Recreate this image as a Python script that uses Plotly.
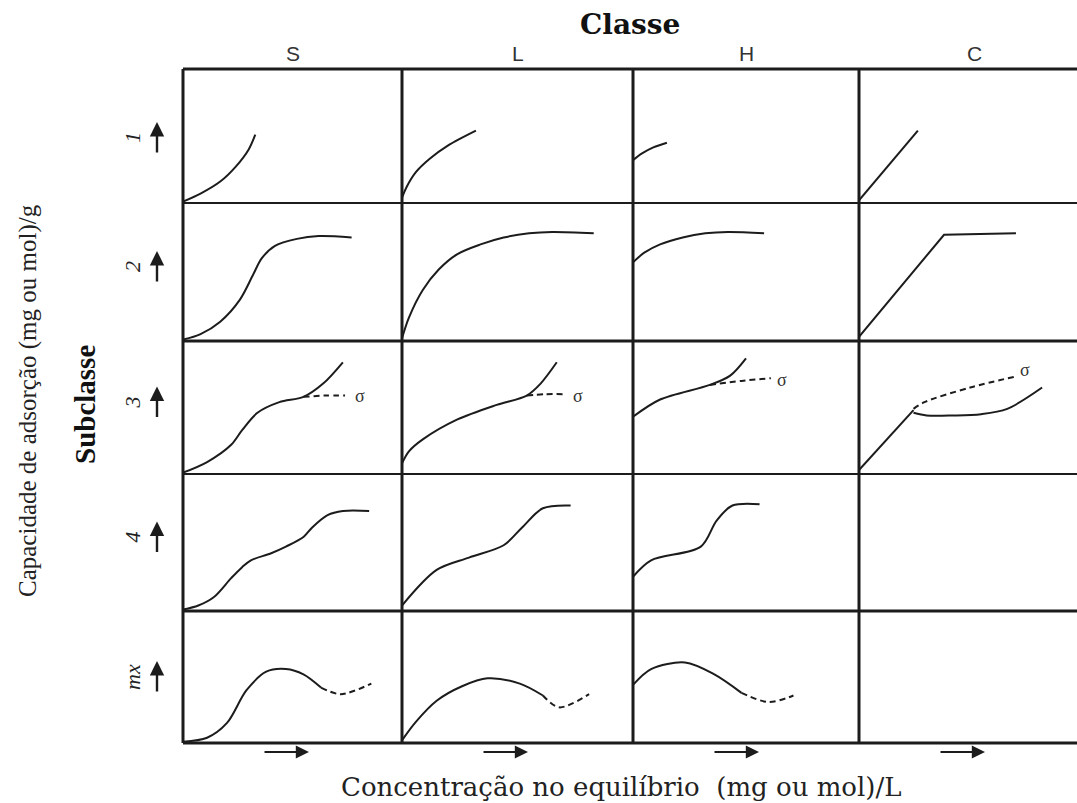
import plotly.graph_objects as go

# ---------------- data (cell-fraction coordinates) ----------------
classes = ["S", "L", "H", "C"]
subclasses = ["1", "2", "3", "4", "mx"]

# row 1
s1_x = [0, .08, .17, .24, .30, .33]
s1_y = [.01, .07, .16, .27, .40, .51]
l1_x = [0, .02, .06, .12, .20, .32]
l1_y = [.04, .12, .23, .33, .43, .54]
h1_x = [0, .04, .09, .15]
h1_y = [.32, .37, .415, .45]
c1_x = [0, .27]
c1_y = [.02, .54]
# row 2
s2_x = [0, .08, .17, .26, .32, .36, .42, .52, .62, .77]
s2_y = [.01, .05, .14, .30, .48, .60, .69, .74, .76, .75]
l2_x = [0, .03, .09, .16, .24, .34, .44, .55, .65, .83]
l2_y = [.02, .17, .37, .52, .63, .70, .75, .78, .79, .78]
h2_x = [0, .05, .12, .22, .32, .42, .58]
h2_y = [.57, .64, .70, .75, .78, .79, .78]
c2_x = [0, .39, .72]
c2_y = [.03, .77, .78]
# row 3
s3_x = [0, .11, .22, .27, .34, .44, .55, .64, .73]
s3_y = [.01, .09, .22, .33, .46, .54, .58, .68, .84]
s3d_x = [.55, .65, .74]
s3d_y = [.58, .59, .59]
l3_x = [0, .03, .09, .24, .41, .54, .60, .67]
l3_y = [.08, .17, .26, .41, .52, .59, .68, .84]
l3d_x = [.54, .62, .71]
l3d_y = [.59, .60, .60]
h3_x = [0, .12, .34, .43, .50]
h3_y = [.43, .56, .67, .74, .87]
h3d_x = [.34, .48, .61]
h3d_y = [.67, .70, .72]
c3a_x = [0, .25]
c3a_y = [.03, .48]
c3b_x = [.25, .31, .43, .56, .68, .84]
c3b_y = [.46, .44, .44, .45, .49, .65]
c3d_x = [.25, .30, .51, .71]
c3d_y = [.49, .54, .65, .73]
sigma_x = [.81, .76, .66, .76]
sigma_y = [.59, .59, .71, .78]
# row 4
s4_x = [0, .07, .14, .22, .27, .31, .40, .47, .55, .59, .66, .73, .85]
s4_y = [.01, .04, .10, .24, .32, .37, .42, .47, .54, .61, .70, .73, .73]
l4_x = [0, .15, .29, .44, .52, .61, .73]
l4_y = [.04, .30, .39, .48, .61, .75, .77]
h4_x = [0, .08, .30, .37, .44, .56]
h4_y = [.25, .37, .47, .66, .77, .78]
# row 5
s5_x = [0, .11, .20, .29, .38, .47, .55, .63]
s5_y = [.01, .04, .15, .40, .54, .56, .52, .42]
s5d_x = [.63, .72, .86]
s5d_y = [.42, .37, .45]
l5_x = [0, .06, .15, .26, .37, .51, .61]
l5_y = [.02, .16, .32, .43, .49, .45, .36]
l5d_x = [.61, .68, .81]
l5d_y = [.36, .27, .37]
h5_x = [0, .08, .23, .36, .48]
h5_y = [.44, .56, .61, .52, .38]
h5d_x = [.48, .60, .71]
h5d_y = [.38, .31, .36]

# (row, col, x, y, dashed, linear)
curves = [
    (0, 0, s1_x, s1_y, False, False), (0, 1, l1_x, l1_y, False, False),
    (0, 2, h1_x, h1_y, False, False), (0, 3, c1_x, c1_y, False, True),
    (1, 0, s2_x, s2_y, False, False), (1, 1, l2_x, l2_y, False, False),
    (1, 2, h2_x, h2_y, False, False), (1, 3, c2_x, c2_y, False, True),
    (2, 0, s3_x, s3_y, False, False), (2, 0, s3d_x, s3d_y, True, False),
    (2, 1, l3_x, l3_y, False, False), (2, 1, l3d_x, l3d_y, True, False),
    (2, 2, h3_x, h3_y, False, False), (2, 2, h3d_x, h3d_y, True, False),
    (2, 3, c3a_x, c3a_y, False, True), (2, 3, c3b_x, c3b_y, False, False),
    (2, 3, c3d_x, c3d_y, True, False),
    (3, 0, s4_x, s4_y, False, False), (3, 1, l4_x, l4_y, False, False),
    (3, 2, h4_x, h4_y, False, False),
    (4, 0, s5_x, s5_y, False, False), (4, 0, s5d_x, s5d_y, True, False),
    (4, 1, l5_x, l5_y, False, False), (4, 1, l5d_x, l5d_y, True, False),
    (4, 2, h5_x, h5_y, False, False), (4, 2, h5d_x, h5d_y, True, False),
]

# ---------------- layout geometry ----------------
W, H = 1077, 803
col_edges = [183, 402, 633, 859, 1077]
row_edges = [69, 203, 341, 474, 611, 743]
row_line_w = [3, 2, 3, 2, 3, 3]
INK = "#1c1c1c"

def px(x):
    return x / W

def py(y):
    return 1 - y / H

fig = go.Figure()
layout = dict(width=W, height=H, margin=dict(l=0, r=0, t=0, b=0),
              paper_bgcolor="white", plot_bgcolor="white", showlegend=False)

for r in range(5):
    for c in range(4):
        i = r * 4 + c + 1
        sfx = "" if i == 1 else str(i)
        layout["xaxis" + sfx] = dict(domain=[px(col_edges[c]), px(col_edges[c + 1])],
                                     range=[0, 1], visible=False, fixedrange=True,
                                     anchor="y" + sfx)
        layout["yaxis" + sfx] = dict(domain=[py(row_edges[r + 1]), py(row_edges[r])],
                                     range=[0, 1], visible=False, fixedrange=True,
                                     anchor="x" + sfx)

def axn(r, c):
    i = r * 4 + c + 1
    return ("x" if i == 1 else "x" + str(i)), ("y" if i == 1 else "y" + str(i))

for r, c, xs, ys, dashed, linear in curves:
    xa, ya = axn(r, c)
    fig.add_trace(go.Scatter(
        x=xs, y=ys, xaxis=xa, yaxis=ya, mode="lines", hoverinfo="skip",
        line=dict(color=INK, width=2, dash="6px,4px" if dashed else "solid",
                  shape="linear" if linear else "spline", smoothing=0.9),
        cliponaxis=False))

shapes = []
for k, y in enumerate(row_edges):
    shapes.append(dict(type="line", xref="paper", yref="paper",
                       x0=px(col_edges[0]), x1=1, y0=py(y), y1=py(y),
                       line=dict(color=INK, width=row_line_w[k])))
for x in col_edges[:-1]:
    shapes.append(dict(type="line", xref="paper", yref="paper",
                       x0=px(x), x1=px(x), y0=py(row_edges[0]), y1=py(row_edges[-1]),
                       line=dict(color=INK, width=3)))
layout["shapes"] = shapes

C = dict(xanchor="center", yanchor="middle")
ann = []
# sigma labels in row 3
for c in range(4):
    xa, ya = axn(2, c)
    ann.append(dict(text="σ", x=sigma_x[c], y=sigma_y[c], xref=xa, yref=ya, showarrow=False,
                    font=dict(family="Liberation Serif", size=18, color="#333"), **C))

# column labels
for c, name in enumerate(classes):
    cx = (col_edges[c] + col_edges[c + 1]) / 2 + (6 if c == 3 else 0)
    ann.append(dict(text=name, x=px(cx), y=py(53), xref="paper", yref="paper",
                    showarrow=False, font=dict(family="Liberation Sans", size=21, color="#333"), **C))
    # horizontal arrows under each column
    ann.append(dict(text="", x=px(col_edges[c] + 126), y=py(752), xref="paper", yref="paper",
                    showarrow=True, ax=-46, ay=0, arrowhead=2, arrowsize=1.2, arrowwidth=2.2,
                    arrowcolor=INK, standoff=0, startstandoff=0))

# row labels and vertical arrows
for r, name in enumerate(subclasses):
    cy = (row_edges[r] + row_edges[r + 1]) / 2 - (5 if 0 < r < 4 else 0) + (2 if r == 0 else 0)
    ann.append(dict(text="<i>%s</i>" % name, x=px(132), y=py(cy), xref="paper", yref="paper",
                    showarrow=False, textangle=-90,
                    font=dict(family="Liberation Serif", size=22, color="#222"), **C))
    ann.append(dict(text="", x=px(157), y=py(cy - 16), xref="paper", yref="paper",
                    showarrow=True, ax=0, ay=32, arrowhead=2, arrowsize=1.2, arrowwidth=2.4,
                    arrowcolor=INK, standoff=0, startstandoff=0))

ann.append(dict(text="<b>Classe</b>", x=px(630), y=py(24), xref="paper", yref="paper",
                showarrow=False, font=dict(family="DejaVu Serif", size=28, color="#111"), **C))
ann.append(dict(text="<b>Subclasse</b>", x=px(85), y=py(405), xref="paper", yref="paper",
                showarrow=False, textangle=-90,
                font=dict(family="Liberation Serif", size=29, color="#111"), **C))
ann.append(dict(text="Capacidade de adsorção (mg ou mol)/g", x=px(28), y=py(401),
                xref="paper", yref="paper", showarrow=False, textangle=-90,
                font=dict(family="Liberation Serif", size=25, color="#222"), **C))
ann.append(dict(text="Concentração no equilíbrio  (mg ou mol)/L", x=px(621), y=py(787),
                xref="paper", yref="paper", showarrow=False,
                font=dict(family="DejaVu Serif", size=26, color="#222"), **C))
layout["annotations"] = ann

fig.update_layout(**layout)
fig.write_html("out.html")
